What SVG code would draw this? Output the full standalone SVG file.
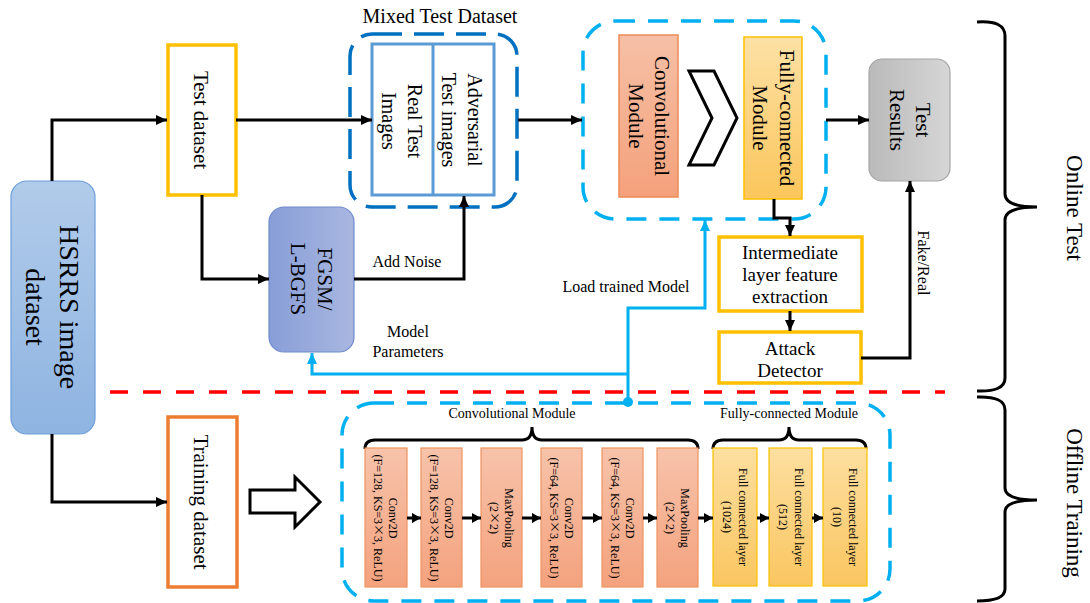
<svg xmlns="http://www.w3.org/2000/svg" width="1090" height="603" viewBox="0 0 1090 603">
<style>
text{font-family:"Liberation Serif","Times New Roman",serif;fill:#000}
.f28{font-size:28px}.f21{font-size:21px}.f20{font-size:20px}.f19{font-size:19px}.f16{font-size:16px}.f23{font-size:23px}.f14{font-size:14px}.f12{font-size:12px}
.x{font-family:"Noto Sans CJK SC","Liberation Serif",serif}
.ln{fill:none;stroke:#000;stroke-width:3}
.bl{fill:none;stroke:#00b0f0;stroke-width:3}
.sm{fill:none;stroke:#000;stroke-width:3}
.conv{fill:url(#gConvL);stroke:#f0935f;stroke-width:1.2}
.fcl{fill:url(#gFcL);stroke:#ffc000;stroke-width:1.2}
.br{fill:none;stroke:#000;stroke-width:3}
</style>
<defs>
<linearGradient id="gHs" x1="0" y1="0" x2="0" y2="1"><stop offset="0" stop-color="#b1cbea"/><stop offset="1" stop-color="#8eb4e1"/></linearGradient>
<linearGradient id="gFg" x1="0" y1="0" x2="1" y2="0"><stop offset="0" stop-color="#889ed8"/><stop offset="1" stop-color="#a9b7e0"/></linearGradient>
<linearGradient id="gCv" x1="0" y1="0" x2="0" y2="1"><stop offset="0" stop-color="#f6c0a6"/><stop offset="1" stop-color="#f4a17b"/></linearGradient>
<linearGradient id="gFc" x1="0" y1="0" x2="0" y2="1"><stop offset="0" stop-color="#fde1a5"/><stop offset="1" stop-color="#fbc65c"/></linearGradient>
<linearGradient id="gTr" x1="0" y1="0" x2="1" y2="0"><stop offset="0" stop-color="#bababa"/><stop offset="1" stop-color="#d6d6d6"/></linearGradient>
<linearGradient id="gConvL" x1="0" y1="0" x2="0" y2="1"><stop offset="0" stop-color="#f7c3aa"/><stop offset="1" stop-color="#f4a27e"/></linearGradient>
<linearGradient id="gFcL" x1="0" y1="0" x2="0" y2="1"><stop offset="0" stop-color="#fddfa0"/><stop offset="1" stop-color="#fac660"/></linearGradient>
<marker id="ah" markerUnits="userSpaceOnUse" markerWidth="11" markerHeight="10" refX="11" refY="5" orient="auto"><path d="M0,0 L11,5 L0,10 z" fill="#000"/></marker>
<marker id="ahs" markerUnits="userSpaceOnUse" markerWidth="9" markerHeight="10" refX="9" refY="5" orient="auto"><path d="M0,0 L9,5 L0,10 z" fill="#000"/></marker>
<marker id="ahb" markerUnits="userSpaceOnUse" markerWidth="11" markerHeight="10" refX="11" refY="5" orient="auto"><path d="M0,0 L11,5 L0,10 z" fill="#00b0f0"/></marker>
</defs>
<rect width="1090" height="603" fill="#fff"/>

<g id="separator">
<path d="M110,392 H945" fill="none" stroke="#ff0000" stroke-width="3.5" stroke-dasharray="18 15"/>
</g>
<g id="brace-online">
<path class="br" d="M977,22 Q1005,20 1005,36 L1005,194 Q1005,207 1037,207 Q1005,207 1005,220 L1005,378 Q1005,392 977,391"/>
<g transform="translate(1075,208) rotate(90)"><text class="f23" text-anchor="middle" y="8">Online Test</text></g>
</g>
<g id="brace-offline">
<path class="br" d="M977,397 Q1005,396 1005,410 L1005,488 Q1005,500 1037,500 Q1005,500 1005,512 L1005,589 Q1005,601 977,601"/>
<g transform="translate(1075,503) rotate(90)"><text class="f23" text-anchor="middle" y="8">Offline Training</text></g>
</g>

<g id="mixed-test-dataset">
<text class="f20" x="440" y="23" text-anchor="middle">Mixed Test Dataset</text>
<rect x="350" y="34" width="167" height="173" rx="22" fill="none" stroke="#0070c0" stroke-width="3.5" stroke-dasharray="30 12"/>
<rect x="372" y="44" width="122" height="151" fill="#fff" stroke="#5b9bd5" stroke-width="3"/>
<line x1="433" y1="44" x2="433" y2="195" stroke="#5b9bd5" stroke-width="3"/>
<g transform="translate(402,121) rotate(90)"><text class="f20" text-anchor="middle"><tspan x="0" y="-6">Real Test</tspan><tspan x="0" y="20">Images</tspan></text></g>
<g transform="translate(462,120) rotate(90)"><text class="f20" text-anchor="middle"><tspan x="0" y="-6">Adversarial</tspan><tspan x="0" y="20">Test images</tspan></text></g>
</g>

<g id="online-model">
<rect x="583" y="21" width="243" height="198" rx="32" fill="none" stroke="#00b0f0" stroke-width="3.5" stroke-dasharray="20 13"/>
</g>
<g id="conv-module">
<rect x="619" y="35" width="59" height="162" fill="url(#gCv)" stroke="#ed8a55" stroke-width="1.5"/>
<g transform="translate(648,116) rotate(90)"><text class="f21" text-anchor="middle"><tspan x="0" y="-7">Convolutional</tspan><tspan x="0" y="19">Module</tspan></text></g>
</g>
<g id="chevron">
<polygon points="689,71 714,71 737,118 714,165 689,165 712,118" fill="#fff" stroke="#000" stroke-width="3"/>
</g>
<g id="fc-module">
<rect x="744" y="37" width="58" height="162" fill="url(#gFc)" stroke="#ffc000" stroke-width="1.5"/>
<g transform="translate(773,118) rotate(90)"><text class="f21" text-anchor="middle"><tspan x="0" y="-7">Fully-connected</tspan><tspan x="0" y="20">Module</tspan></text></g>
</g>

<g id="hsrrs">
<rect x="11" y="181" width="84" height="253" rx="16" fill="url(#gHs)" stroke="#6d9eda" stroke-width="1.2"/>
<g transform="translate(53,307) rotate(90)"><text class="f28" text-anchor="middle"><tspan x="0" y="-7">HSRRS image</tspan><tspan x="0" y="27">dataset</tspan></text></g>
</g>
<g id="test-dataset">
<rect x="168" y="45" width="68" height="150" fill="#fff" stroke="#ffc000" stroke-width="3.5"/>
<g transform="translate(201,120) rotate(90)"><text class="f21" text-anchor="middle" y="7">Test dataset</text></g>
</g>
<g id="training-dataset">
<rect x="168" y="417" width="69" height="170" fill="#fff" stroke="#ed7d31" stroke-width="3.5"/>
<g transform="translate(201,502) rotate(90)"><text class="f21" text-anchor="middle" y="7">Training dataset</text></g>
</g>
<g id="fgsm">
<rect x="269" y="207" width="85" height="145" rx="15" fill="url(#gFg)" stroke="#6f8bcc" stroke-width="1.2"/>
<g transform="translate(311,279) rotate(90)"><text class="f21" text-anchor="middle"><tspan x="0" y="-7">FGSM/</tspan><tspan x="0" y="20">L-BGFS</tspan></text></g>
</g>
<g id="test-results">
<rect x="869" y="59" width="81" height="122" rx="13" fill="url(#gTr)" stroke="#a6a6a6" stroke-width="1.2"/>
<g transform="translate(910,120) rotate(90)"><text class="f21" text-anchor="middle"><tspan x="0" y="-6">Test</tspan><tspan x="0" y="20">Results</tspan></text></g>
</g>
<g id="intermediate">
<rect x="719" y="237" width="143" height="74" fill="#fff" stroke="#ffc000" stroke-width="3.5"/>
<text class="f19" text-anchor="middle"><tspan x="790" y="259">Intermediate</tspan><tspan x="790" y="281">layer feature</tspan><tspan x="790" y="303">extraction</tspan></text>
</g>
<g id="attack-detector">
<rect x="719" y="332" width="142" height="51" fill="#fff" stroke="#ffc000" stroke-width="3.5"/>
<text class="f19" text-anchor="middle"><tspan x="790" y="355">Attack</tspan><tspan x="790" y="377">Detector</tspan></text>
</g>
<g id="hollow-arrow">
<polygon points="250,490 295,490 295,477 320,502 295,527 295,513 250,513" fill="#fff" stroke="#000" stroke-width="3"/>
</g>

<g id="offline-model">
<rect x="342" y="403" width="548" height="198" rx="32" fill="none" stroke="#00b0f0" stroke-width="3.5" stroke-dasharray="20 13"/>
<text class="f14" x="512" y="418" text-anchor="middle">Convolutional Module</text>
<text class="f14" x="789" y="418" text-anchor="middle">Fully-connected Module</text>
<path class="br" stroke-width="2.5" d="M365,449 Q365,440 375,440 L522,440 Q532,440 532,427 Q532,440 542,440 L688,440 Q698,440 698,449"/>
<path class="br" stroke-width="2.5" d="M713,449 Q713,440 723,440 L779,440 Q789,440 789,427 Q789,440 799,440 L856,440 Q866,440 866,449"/>
</g>
<g id="layer-conv1"><rect class="conv" x="365" y="448" width="42" height="139"/><g transform="translate(386,518) rotate(90)"><text class="f12" text-anchor="middle"><tspan x="0" y="-3">Conv2D</tspan><tspan x="0" y="12">(F=128, KS=3<tspan class="x">×</tspan>3, ReLU)</tspan></text></g></g>
<g id="layer-conv2"><rect class="conv" x="421" y="448" width="41" height="139"/><g transform="translate(441.5,518) rotate(90)"><text class="f12" text-anchor="middle"><tspan x="0" y="-3">Conv2D</tspan><tspan x="0" y="12">(F=128, KS=3<tspan class="x">×</tspan>3, ReLU)</tspan></text></g></g>
<g id="layer-pool1"><rect class="conv" x="481" y="448" width="41" height="139"/><g transform="translate(501.5,518) rotate(90)"><text class="f12" text-anchor="middle"><tspan x="0" y="-3">MaxPooling</tspan><tspan x="0" y="12">(2<tspan class="x">×</tspan>2)</tspan></text></g></g>
<g id="layer-conv3"><rect class="conv" x="541" y="448" width="41" height="139"/><g transform="translate(561.5,518) rotate(90)"><text class="f12" text-anchor="middle"><tspan x="0" y="-3">Conv2D</tspan><tspan x="0" y="12">(F=64, KS=3<tspan class="x">×</tspan>3, ReLU)</tspan></text></g></g>
<g id="layer-conv4"><rect class="conv" x="602" y="448" width="41" height="139"/><g transform="translate(622.5,518) rotate(90)"><text class="f12" text-anchor="middle"><tspan x="0" y="-3">Conv2D</tspan><tspan x="0" y="12">(F=64, KS=3<tspan class="x">×</tspan>3, ReLU)</tspan></text></g></g>
<g id="layer-pool2"><rect class="conv" x="657" y="448" width="41" height="139"/><g transform="translate(677.5,518) rotate(90)"><text class="f12" text-anchor="middle"><tspan x="0" y="-3">MaxPooling</tspan><tspan x="0" y="12">(2<tspan class="x">×</tspan>2)</tspan></text></g></g>
<g id="layer-fc1"><rect class="fcl" x="713" y="448" width="44" height="138"/><g transform="translate(735,517) rotate(90)"><text class="f12" text-anchor="middle"><tspan x="0" y="-4">Full connected  layer</tspan><tspan x="0" y="12">(1024)</tspan></text></g></g>
<g id="layer-fc2"><rect class="fcl" x="769" y="448" width="43" height="138"/><g transform="translate(790.5,517) rotate(90)"><text class="f12" text-anchor="middle"><tspan x="0" y="-4">Full connected layer</tspan><tspan x="0" y="12">(512)</tspan></text></g></g>
<g id="layer-fc3"><rect class="fcl" x="823" y="448" width="44" height="138"/><g transform="translate(845,517) rotate(90)"><text class="f12" text-anchor="middle"><tspan x="0" y="-4">Full connected layer</tspan><tspan x="0" y="12">(10)</tspan></text></g></g>

<g id="connectors">
<path class="ln" d="M52,181 V120 H167" marker-end="url(#ah)"/>
<path class="ln" d="M52,434 V502 H167" marker-end="url(#ah)"/>
<path class="ln" d="M236,120 H372" marker-end="url(#ah)"/>
<path class="ln" d="M202,195 V279 H269" marker-end="url(#ah)"/>
<path class="ln" d="M354,279 H464 V196" marker-end="url(#ah)"/>
<path class="ln" d="M518,120 H582" marker-end="url(#ah)"/>
<path class="ln" d="M826,120 H869" marker-end="url(#ah)"/>
<path class="ln" d="M774,199 V218 H790 V236" marker-end="url(#ah)"/>
<path class="ln" d="M790,311 V331" marker-end="url(#ah)"/>
<path class="ln" d="M861,358 H910 V181" marker-end="url(#ah)"/>
<path class="bl" d="M628,402 V308 H705 V220" marker-end="url(#ahb)"/>
<path class="bl" d="M628,374 H312 V353" marker-end="url(#ahb)"/>
<circle cx="628" cy="402" r="5" fill="#00b0f0"/>
<path class="sm" d="M407,518 H421" marker-end="url(#ahs)"/>
<path class="sm" d="M462,518 H481" marker-end="url(#ahs)"/>
<path class="sm" d="M522,518 H541" marker-end="url(#ahs)"/>
<path class="sm" d="M582,518 H602" marker-end="url(#ahs)"/>
<path class="sm" d="M643,518 H657" marker-end="url(#ahs)"/>
<path class="sm" d="M698,518 H713" marker-end="url(#ahs)"/>
<path class="sm" d="M757,518 H769" marker-end="url(#ahs)"/>
<path class="sm" d="M812,518 H823" marker-end="url(#ahs)"/>
<text class="f16" x="407" y="267" text-anchor="middle">Add Noise</text>
<text class="f16" x="626" y="292" text-anchor="middle">Load trained Model</text>
<text class="f16" text-anchor="middle"><tspan x="408" y="337">Model</tspan><tspan x="408" y="357">Parameters</tspan></text>
<g transform="translate(924,263) rotate(90)"><text class="f16" text-anchor="middle" y="6">Fake/Real</text></g>
</g>
</svg>
